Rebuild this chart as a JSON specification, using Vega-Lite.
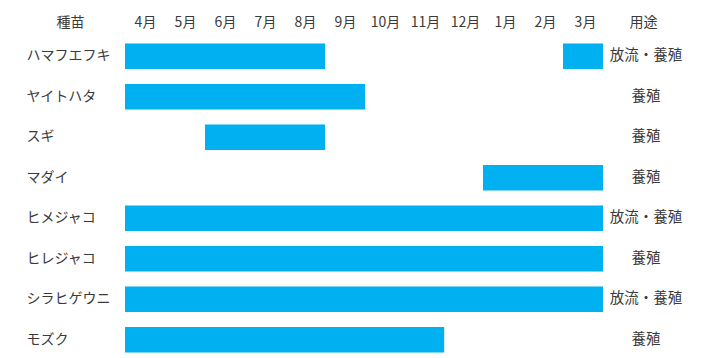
{
  "$schema": "https://vega.github.io/schema/vega-lite/v6.json",
  "width": 480,
  "height": 324,
  "autosize": "none",
  "padding": {"left": 125, "top": 36, "right": 115, "bottom": 0},
  "config": {
    "view": {"stroke": null},
    "font": "Noto Sans CJK JP",
    "axis": {"grid": false, "domain": false, "ticks": false, "labelFont": "Noto Sans CJK JP", "titleFont": "Noto Sans CJK JP", "labelFontSize": 14, "titleFontSize": 14, "labelColor": "#3a3a3a", "titleColor": "#3a3a3a", "titleFontWeight": "normal"}
  },
  "datasets": {
    "bars": [
      {"species": "ハマフエフキ", "start": 0, "end": 5},
      {"species": "ハマフエフキ", "start": 10.95, "end": 11.95},
      {"species": "ヤイトハタ", "start": 0, "end": 6},
      {"species": "スギ", "start": 2, "end": 5},
      {"species": "マダイ", "start": 8.95, "end": 11.95},
      {"species": "ヒメジャコ", "start": 0, "end": 11.95},
      {"species": "ヒレジャコ", "start": 0, "end": 11.95},
      {"species": "シラヒゲウニ", "start": 0, "end": 11.95},
      {"species": "モズク", "start": 0, "end": 7.98}
    ],
    "usage": [
      {"species": "ハマフエフキ", "usage": "放流・養殖"},
      {"species": "ヤイトハタ", "usage": "養殖"},
      {"species": "スギ", "usage": "養殖"},
      {"species": "マダイ", "usage": "養殖"},
      {"species": "ヒメジャコ", "usage": "放流・養殖"},
      {"species": "ヒレジャコ", "usage": "養殖"},
      {"species": "シラヒゲウニ", "usage": "放流・養殖"},
      {"species": "モズク", "usage": "養殖"}
    ]
  },
  "encoding": {
    "y": {
      "field": "species",
      "type": "nominal",
      "sort": ["ハマフエフキ", "ヤイトハタ", "スギ", "マダイ", "ヒメジャコ", "ヒレジャコ", "シラヒゲウニ", "モズク"],
      "scale": {"paddingInner": 0.37, "paddingOuter": 0.185},
      "axis": {"title": "種苗", "titleAngle": 0, "titleX": -55, "titleY": -7, "titleAlign": "center", "titleBaseline": "bottom", "labelAlign": "left", "labelPadding": 99, "labelBaseline": "middle"}
    }
  },
  "layer": [
    {
      "data": {"name": "bars"},
      "mark": {"type": "bar", "color": "#00B0F0"},
      "encoding": {
        "x": {
          "field": "start", "type": "quantitative",
          "scale": {"domain": [0, 12], "nice": false, "zero": false},
          "axis": {
            "orient": "top",
            "values": [0.5, 1.5, 2.5, 3.5, 4.5, 5.5, 6.5, 7.5, 8.5, 9.5, 10.5, 11.5],
            "labelExpr": "['4月','5月','6月','7月','8月','9月','10月','11月','12月','1月','2月','3月'][floor(datum.value)]",
            "labelPadding": 7,
            "title": "用途",
            "titleX": 518,
            "titleY": -7,
            "titleAlign": "center",
            "titleBaseline": "bottom"
          }
        },
        "x2": {"field": "end"}
      }
    },
    {
      "data": {"name": "usage"},
      "mark": {"type": "text", "align": "center", "baseline": "middle", "dx": 41, "fontSize": 14.5, "color": "#3a3a3a", "font": "Noto Sans CJK JP"},
      "encoding": {
        "x": {"datum": 12, "type": "quantitative"},
        "text": {"field": "usage"}
      }
    }
  ]
}
